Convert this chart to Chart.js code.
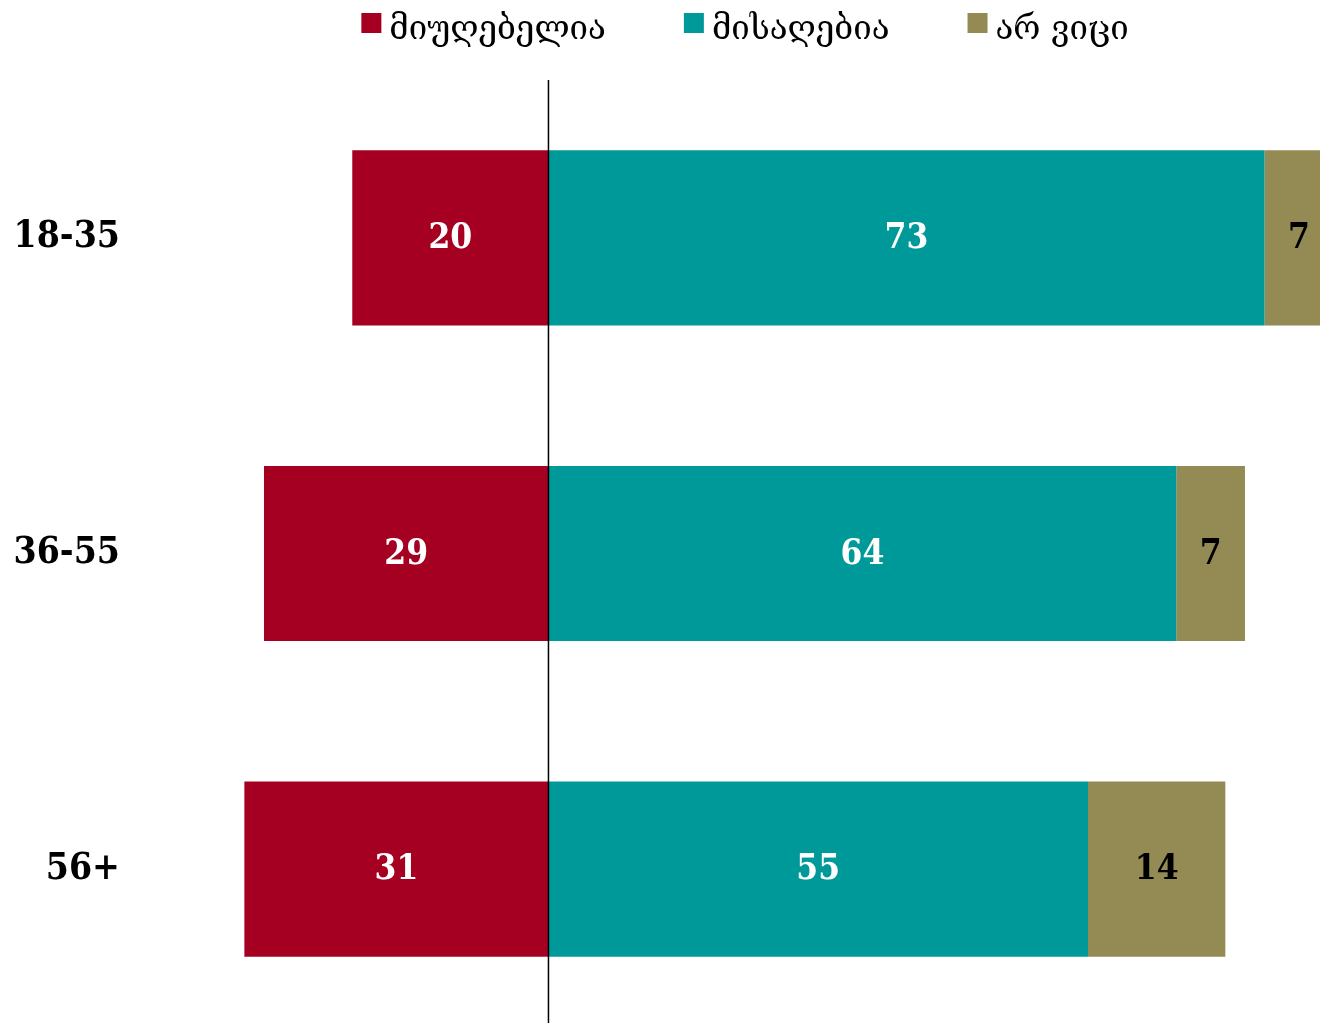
<!DOCTYPE html>
<html>
<head>
<meta charset="utf-8">
<script src="https://cdn.jsdelivr.net/npm/chart.js@4/dist/chart.umd.min.js"></script>
<style>
  html, body { margin: 0; padding: 0; background: #ffffff; overflow: hidden; }
</style>
</head>
<body>
<canvas id="chart" width="1320" height="1027"></canvas>
<script>
// Age groups and answer shares (%)
const ageGroups = ['18-35', '36-55', '56+'];
const seriesNames = ['მიუღებელია', 'მისაღებია', 'არ ვიცი'];
const unacceptable = [20, 29, 31];
const acceptable = [73, 64, 55];
const dontKnow = [7, 7, 14];

const seriesColors = ['#A50021', '#009999', '#948A54'];
const valueColors = ['#FFFFFF', '#FFFFFF', '#000000'];

const numberFont = '"DejaVu Serif Condensed", "DejaVu Serif", serif';
const legendFont = '"DejaVu Serif", "DejaVu Sans", serif';

// "Unacceptable" runs to the left of zero, the rest stack to the right
const seriesValues = [unacceptable.map(v => -v), acceptable, dontKnow];

// Zero divider plus the value written in the middle of every bar
const barAnnotations = {
  id: 'barAnnotations',
  afterDatasetsDraw(chart) {
    const { ctx, chartArea, scales } = chart;
    const x0 = scales.x.getPixelForValue(0);
    ctx.save();
    ctx.strokeStyle = '#000000';
    ctx.lineWidth = 1.5;
    ctx.beginPath();
    ctx.moveTo(x0, chartArea.top);
    ctx.lineTo(x0, chartArea.bottom);
    ctx.stroke();

    ctx.font = 'bold 35px ' + numberFont;
    ctx.textAlign = 'center';
    ctx.textBaseline = 'middle';
    chart.data.datasets.forEach((ds, i) => {
      chart.getDatasetMeta(i).data.forEach((bar, j) => {
        const { x, base, y } = bar.getProps(['x', 'base', 'y'], true);
        ctx.fillStyle = valueColors[i];
        ctx.fillText(String(Math.abs(ds.data[j])), (x + base) / 2, y + 1);
      });
    });
    ctx.restore();
  }
};

// Legend row across the top
const topLegend = {
  id: 'topLegend',
  afterDraw(chart) {
    const { ctx } = chart;
    const box = 20, boxGap = 8, itemGap = 78;
    ctx.save();
    ctx.font = '33px ' + legendFont;
    ctx.textBaseline = 'middle';
    ctx.textAlign = 'left';
    const widths = chart.data.datasets.map(ds => box + boxGap + ctx.measureText(ds.label).width);
    const total = widths.reduce((a, b) => a + b, 0) + itemGap * (widths.length - 1);
    let x = 745 - total / 2;
    chart.data.datasets.forEach((ds, i) => {
      ctx.fillStyle = ds.backgroundColor;
      ctx.fillRect(x, 13, box, box);
      ctx.fillStyle = '#000000';
      ctx.fillText(ds.label, x + box + boxGap, 30);
      x += widths[i] + itemGap;
    });
    ctx.restore();
  }
};

new Chart(document.getElementById('chart'), {
  type: 'bar',
  data: {
    labels: ageGroups,
    datasets: seriesNames.map((name, i) => ({
      label: name,
      data: seriesValues[i],
      backgroundColor: seriesColors[i],
      borderWidth: 0,
      barPercentage: 0.555,
      categoryPercentage: 1
    }))
  },
  options: {
    indexAxis: 'y',
    responsive: false,
    animation: false,
    layout: { padding: { top: 80, right: 0, bottom: 0, left: 0 } },
    plugins: {
      legend: { display: false },
      tooltip: { enabled: false }
    },
    scales: {
      x: {
        stacked: true,
        display: false,
        min: -39.6,
        max: 78.65,
        afterFit(scale) { scale.height = 0; }
      },
      y: {
        stacked: true,
        afterFit(scale) {
          // fixed label column; no extra room above/below the bars
          scale.width = 160;
          scale.paddingTop = 0;
          scale.paddingBottom = 0;
        },
        grid: { display: false, drawTicks: false },
        border: { display: false },
        ticks: {
          padding: 40,
          color: '#000000',
          font: { family: numberFont, size: 37, weight: 'bold' }
        }
      }
    }
  },
  plugins: [barAnnotations, topLegend]
});
</script>
</body>
</html>
